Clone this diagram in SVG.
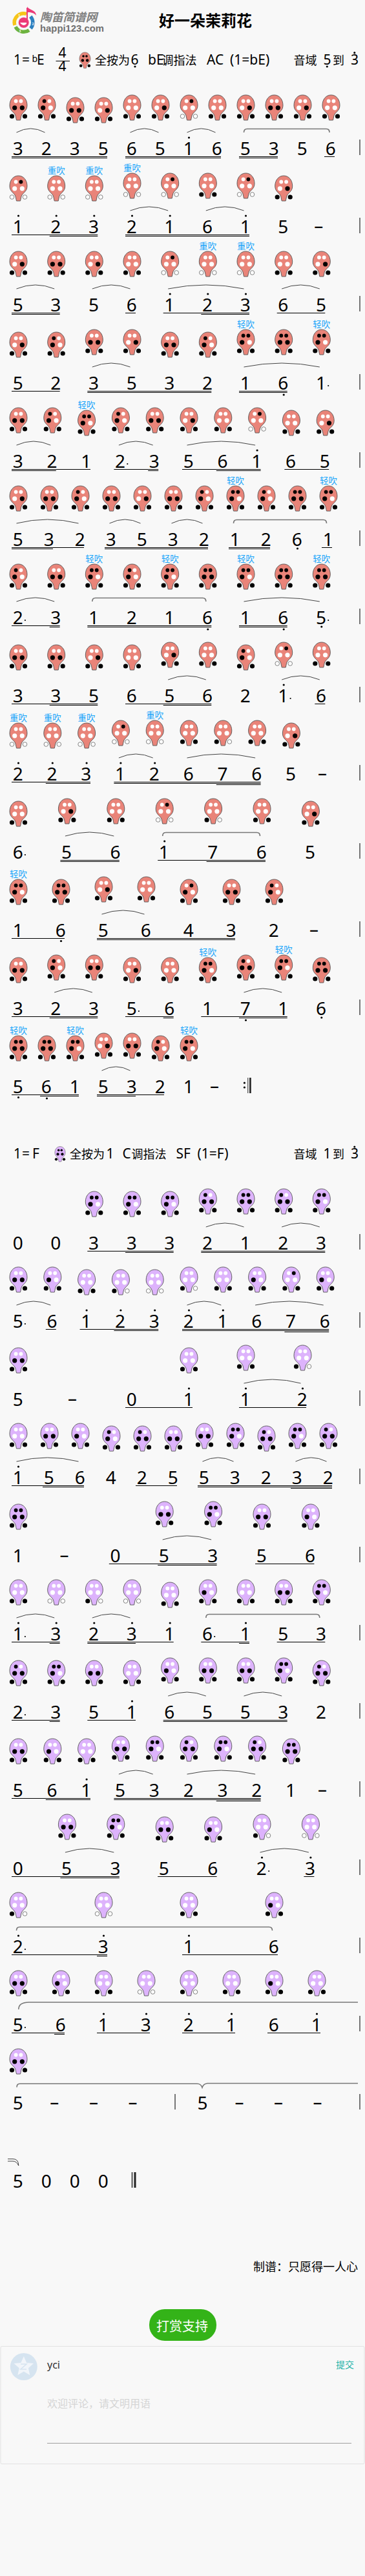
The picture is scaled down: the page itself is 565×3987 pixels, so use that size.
<svg xmlns="http://www.w3.org/2000/svg" width="565" height="3987" viewBox="0 0 565 3987">
<style>
text{font-family:"Noto Sans","Noto Sans CJK SC",sans-serif;fill:#000}
.n text{font-size:28px;text-anchor:middle}
.h{font-size:21px}
.j{font-size:18px}
.c{font-size:13.5px;text-anchor:middle;fill:#1AA5FA}
.w{fill:#fff}.k{fill:#000}.o{fill:#fff;stroke:#666;stroke-width:.8}
.br{fill:#E98479;stroke:#555;stroke-width:.9}.bp{fill:#DDB3FC;stroke:#555;stroke-width:.9}
.a{fill:none;stroke:#444;stroke-width:1}
.f{fill:none;stroke:#777;stroke-width:1.6}
.u{fill:none;stroke:#000;stroke-width:1}
.d{fill:none;stroke:#000;stroke-width:3.2;stroke-linecap:round}
.e{fill:none;stroke:#000;stroke-width:2.2;stroke-linecap:round}
.bar{fill:none;stroke:#777;stroke-width:2}
</style>
<defs>
<path id="R" class="br" d="M0 0C8 0 13.5 7 13.5 16C13.5 25 6.5 26 4.5 32L3 39H-3L-4.5 32C-6.5 26-13.5 25-13.5 16C-13.5 7-8 0 0 0Z"/>
<path id="P" class="bp" d="M0 0C8 0 13.5 7 13.5 16C13.5 25 6.5 26 4.5 32L3 39H-3L-4.5 32C-6.5 26-13.5 25-13.5 16C-13.5 7-8 0 0 0Z"/>
<g id="t0"><circle class="w" cx="-3.9" cy="9.5" r="2.9"/><circle class="w" cx="3.9" cy="9.5" r="2.9"/></g>
<g id="t1"><circle class="k" cx="-3.9" cy="9.5" r="2.9"/><circle class="w" cx="3.9" cy="9.5" r="2.9"/></g>
<g id="t2"><circle class="w" cx="-3.9" cy="9.5" r="2.9"/><circle class="k" cx="3.9" cy="9.5" r="2.9"/></g>
<g id="t3"><circle class="k" cx="-3.9" cy="9.5" r="2.9"/><circle class="k" cx="3.9" cy="9.5" r="2.9"/></g>
<g id="m0"><circle class="w" cx="-5.8" cy="19.8" r="3.6"/><circle class="w" cx="5.8" cy="19.8" r="3.6"/></g>
<g id="m1"><circle class="k" cx="-5.8" cy="19.8" r="3.6"/><circle class="w" cx="5.8" cy="19.8" r="3.6"/></g>
<g id="m2"><circle class="w" cx="-5.8" cy="19.8" r="3.6"/><circle class="k" cx="5.8" cy="19.8" r="3.6"/></g>
<g id="m3"><circle class="k" cx="-5.8" cy="19.8" r="3.6"/><circle class="k" cx="5.8" cy="19.8" r="3.6"/></g>
<g id="b0"><circle class="o" cx="-10" cy="33" r="3.3"/><circle class="o" cx="10" cy="33" r="3.3"/></g>
<g id="b1"><circle class="k" cx="-10" cy="33" r="3.6"/><circle class="o" cx="10" cy="33" r="3.3"/></g>
<g id="b3"><circle class="k" cx="-10" cy="33" r="3.6"/><circle class="k" cx="10" cy="33" r="3.6"/></g>
<g id="A"><use href="#t0"/><use href="#m3"/><use href="#b3"/></g>
<g id="B"><use href="#t1"/><use href="#m3"/><use href="#b3"/></g>
<g id="C"><use href="#t1"/><use href="#m1"/><use href="#b3"/></g>
<g id="D"><use href="#t3"/><use href="#m1"/><use href="#b3"/></g>
<g id="E"><use href="#t3"/><use href="#m3"/><use href="#b3"/></g>
<g id="F"><use href="#t0"/><use href="#m2"/><use href="#b3"/></g>
<g id="G"><use href="#t0"/><use href="#m0"/><use href="#b3"/></g>
<g id="H"><use href="#t2"/><use href="#m0"/><use href="#b3"/></g>
<g id="I"><use href="#t2"/><use href="#m0"/><use href="#b0"/></g>
<g id="J"><use href="#t0"/><use href="#m0"/><use href="#b0"/></g>
<g id="K"><use href="#t0"/><use href="#m0"/><use href="#b1"/></g>
<g id="L"><use href="#t0"/><use href="#m1"/><use href="#b3"/></g>
<g id="N"><use href="#t2"/><use href="#m1"/><use href="#b3"/></g>
<g id="rA"><use href="#R"/><use href="#A"/></g><g id="rB"><use href="#R"/><use href="#B"/></g><g id="rC"><use href="#R"/><use href="#C"/></g><g id="rD"><use href="#R"/><use href="#D"/></g><g id="rE"><use href="#R"/><use href="#E"/></g><g id="rF"><use href="#R"/><use href="#F"/></g><g id="rG"><use href="#R"/><use href="#G"/></g><g id="rI"><use href="#R"/><use href="#I"/></g><g id="rJ"><use href="#R"/><use href="#J"/></g><g id="rK"><use href="#R"/><use href="#K"/></g><g id="rN"><use href="#R"/><use href="#N"/></g>
<g id="pA"><use href="#P"/><use href="#A"/></g><g id="pB"><use href="#P"/><use href="#B"/></g><g id="pC"><use href="#P"/><use href="#C"/></g><g id="pD"><use href="#P"/><use href="#D"/></g><g id="pE"><use href="#P"/><use href="#E"/></g><g id="pG"><use href="#P"/><use href="#G"/></g><g id="pH"><use href="#P"/><use href="#H"/></g><g id="pJ"><use href="#P"/><use href="#J"/></g><g id="pK"><use href="#P"/><use href="#K"/></g><g id="pL"><use href="#P"/><use href="#L"/></g>
<path id="bl" class="bar" d="M557-24V0"/>
</defs>
<rect width="565" height="3987" fill="#F8F8F8"/>

<g id="logo">
<path d="M22.8 39A14.3 14.3 0 0 1 41 21.5" fill="none" stroke="#F6C51A" stroke-width="5.5"/>
<path d="M24 41.5A14.3 14.3 0 0 0 45 46.7" fill="none" stroke="#6DB33F" stroke-width="5.5"/>
<path d="M47.5 44A14.3 14.3 0 0 0 47.3 25.5" fill="none" stroke="#2C7FBF" stroke-width="5.5"/>
<circle cx="36.7" cy="35" r="8" fill="#EC3A77"/>
<path d="M31 35Q36.7 43 42.5 35Z" fill="#fff"/>
<path d="M42 37V12" stroke="#EC3A77" stroke-width="2" fill="none"/>
<path d="M42 10C45 16 56 15 56 24C52 19 46 19 43 19Z" fill="#EC3A77"/>
<text x="28.3" y="26" font-size="5" font-weight="bold" style="fill:#fff">1</text>
<text x="49.5" y="38.5" font-size="5" font-weight="bold" style="fill:#fff">2</text>
<text x="29.5" y="49.5" font-size="5" font-weight="bold" style="fill:#fff">3</text>
<text x="62" y="33" font-size="17.7" font-weight="bold" font-style="italic" style="fill:#808080">陶笛简谱网</text>
<text x="62" y="49" font-size="15" font-weight="bold" textLength="99" lengthAdjust="spacingAndGlyphs" style="fill:#707070;font-family:'Liberation Sans',sans-serif">happi123.com</text>
</g>
<text id="title" x="318" y="41" font-size="24" font-weight="bold" text-anchor="middle">好一朵茉莉花</text>

<g id="header1">
<text class="h" x="21" y="100">1</text><text class="h" x="34" y="100">=</text><text x="49.5" y="96" font-size="14">b</text><text class="h" x="57" y="100">E</text>
<text class="h" x="96.6" y="89" text-anchor="middle">4</text><path class="u" d="M86.5 94.5H108"/><text class="h" x="96.6" y="110" text-anchor="middle">4</text>
<use href="#rE" transform="translate(131.5 81) scale(.63)"/>
<text class="j" x="147" y="100">全按为</text><text class="h" x="202.5" y="100">6</text>
<text class="h" x="229" y="100">bE</text><text class="j" x="250.5" y="100">调指法</text>
<text class="h" x="320" y="100">AC</text><text class="h" x="356" y="100">(1=bE)</text>
<text class="j" x="454.5" y="100">音域</text><text class="h" x="500.5" y="100">5</text><text class="j" x="515" y="100">到</text><text class="h" x="543" y="100">3</text>
<path class="d" d="M209 103h0M506.3 103h0M548.8 81.7h0"/>
</g>

<g id="row1" transform="translate(0,240)">
<use href="#rA" x="28.5" y="-93"/><use href="#rC" x="72.5" y="-93"/><use href="#rA" x="116.5" y="-89"/><use href="#rF" x="160.5" y="-89"/><use href="#rG" x="204.5" y="-93"/><use href="#rF" x="248.5" y="-93"/><use href="#rI" x="292.5" y="-93"/><use href="#rG" x="336.5" y="-93"/><use href="#rF" x="380.5" y="-93"/><use href="#rA" x="424.5" y="-93"/><use href="#rF" x="468.5" y="-93"/><use href="#rG" x="512.5" y="-93"/>
<path class="a" d="M25.5-35q22-12 44 0M201.5-35q22-12 44 0M289.5-35q22-12 44 0"/>
<path class="f" d="M377.5-35q0-5.5 5-5.5H505q5 0 5 5.5"/>
<path class="u" d="M18 2.5H166M194 2.5H342M370 2.5H430M502 2.5H518M18 4.5H166M194 4.5H342M370 4.5H430"/>
<g class="n" transform="translate(-.8,0)"><text x="28.5">3</text><text x="72.5">2</text><text x="116.5">3</text><text x="160.5">5</text><text x="204.5">6</text><text x="248.5">5</text><text x="292.5">1</text><text x="336.5">6</text><text x="380.5">5</text><text x="424.5">3</text><text x="468.5">5</text><text x="512.5">6</text></g>
<path class="d" d="M292.5-27h0"/><use href="#bl"/>
</g>

<g id="row2" transform="translate(0,361)">
<use href="#rI" x="28.5" y="-89"/><use href="#rJ" x="87.2" y="-89"/><use href="#rJ" x="145.8" y="-89"/><use href="#rJ" x="204.5" y="-93"/><use href="#rI" x="263.2" y="-93"/><use href="#rG" x="321.8" y="-93"/><use href="#rI" x="380.5" y="-93"/><use href="#rF" x="439.2" y="-89"/>
<text class="c" x="87.2" y="-92">重吹</text><text class="c" x="145.8" y="-92">重吹</text><text class="c" x="204.5" y="-96">重吹</text>
<path class="a" d="M201.5-35q29.3-12 58.7 0M318.8-35q29.3-12 58.7 0"/>
<path class="u" d="M18 2.5H151.3M194 2.5H386M76.7 4.5H151.3M194 4.5H386"/>
<g class="n" transform="translate(-.8,0)"><text x="28.5">1</text><text x="87.2">2</text><text x="145.8">3</text><text x="204.5">2</text><text x="263.2">1</text><text x="321.8">6</text><text x="380.5">1</text><text x="439.2">5</text><text x="494" y="-2">–</text></g>
<path class="d" d="M28.5-27h0M87.2-27h0M145.8-27h0M204.5-27h0M263.2-27h0M380.5-27h0"/><use href="#bl"/>
</g>

<g id="row3" transform="translate(0,482)">
<use href="#rF" x="28.5" y="-93"/><use href="#rA" x="87.2" y="-93"/><use href="#rF" x="145.8" y="-93"/><use href="#rG" x="204.5" y="-93"/><use href="#rI" x="263.2" y="-93"/><use href="#rJ" x="321.8" y="-93"/><use href="#rJ" x="380.5" y="-93"/><use href="#rG" x="439.2" y="-93"/><use href="#rF" x="497.8" y="-93"/>
<text class="c" x="321.8" y="-96">重吹</text><text class="c" x="380.5" y="-96">重吹</text>
<path class="a" d="M25.5-35q29.3-12 58.7 0M142.8-35q29.3-12 58.7 0M260.2-35q58.7-12 117.3 0M436.2-35q29.3-12 58.6 0"/>
<path class="u" d="M18 2.5H92.7M194 2.5H210M252.7 2.5H386M428.7 2.5H503.3M18 4.5H92.7M311.3 4.5H386"/>
<g class="n" transform="translate(-.8,0)"><text x="28.5">5</text><text x="87.2">3</text><text x="145.8">5</text><text x="204.5">6</text><text x="263.2">1</text><text x="321.8">2</text><text x="380.5">3</text><text x="439.2">6</text><text x="497.8">5</text></g>
<path class="d" d="M263.2-27h0M321.8-27h0M380.5-27h0"/><use href="#bl"/>
</g>

<g id="row4" transform="translate(0,603)">
<use href="#rF" x="28.5" y="-89"/><use href="#rC" x="87.2" y="-89"/><use href="#rA" x="145.8" y="-93"/><use href="#rF" x="204.5" y="-93"/><use href="#rA" x="263.2" y="-89"/><use href="#rC" x="321.8" y="-89"/><use href="#rD" x="380.5" y="-93"/><use href="#rE" x="439.2" y="-93"/><use href="#rD" x="497.8" y="-93"/>
<text class="c" x="380.5" y="-96">轻吹</text><text class="c" x="497.8" y="-96">轻吹</text>
<path class="a" d="M142.8-35q29.3-12 58.7 0M377.5-35q58.7-12 117.3 0"/>
<path class="u" d="M18 2.5H92.7M135.3 2.5H327.3M370 2.5H444.7M135.3 4.5H327.3M370 4.5H444.7"/>
<g class="n" transform="translate(-.8,0)"><text x="28.5">5</text><text x="87.2">2</text><text x="145.8">3</text><text x="204.5">5</text><text x="263.2">3</text><text x="321.8">2</text><text x="380.5">1</text><text x="439.2">6</text><text x="497.8">1</text></g>
<path class="d" d="M439.2 8h0"/><path class="e" d="M508.2-6h0"/><use href="#bl"/>
</g>

<g id="row5" transform="translate(0,724)">
<use href="#rA" x="28.5" y="-93"/><use href="#rC" x="81.3" y="-93"/><use href="#rD" x="134.1" y="-89"/><use href="#rC" x="186.9" y="-93"/><use href="#rA" x="239.7" y="-93"/><use href="#rF" x="292.5" y="-93"/><use href="#rG" x="345.3" y="-93"/><use href="#rI" x="398.1" y="-93"/><use href="#rG" x="450.9" y="-89"/><use href="#rF" x="503.7" y="-89"/>
<text class="c" x="134.1" y="-92">轻吹</text>
<path class="a" d="M25.5-35q26.4-12 52.8 0M183.9-35q26.4-12 52.8 0M289.5-35q52.8-12 105.6 0"/>
<path class="u" d="M18 2.5H140M176.4 2.5H245.2M282 2.5H403.6M440.4 2.5H509.2M18 4.5H86.8M229.2 4.5H245.2M334.8 4.5H403.6"/>
<g class="n" transform="translate(-.8,0)"><text x="28.5">3</text><text x="81.3">2</text><text x="134.1">1</text><text x="186.9">2</text><text x="239.7">3</text><text x="292.5">5</text><text x="345.3">6</text><text x="398.1">1</text><text x="450.9">6</text><text x="503.7">5</text></g>
<path class="d" d="M398.1-27h0"/><path class="e" d="M197.3-6h0"/><use href="#bl"/>
</g>

<g id="row6" transform="translate(0,845)">
<use href="#rF" x="28.5" y="-93"/><use href="#rA" x="76.5" y="-93"/><use href="#rC" x="124.5" y="-93"/><use href="#rA" x="172.5" y="-93"/><use href="#rF" x="220.5" y="-93"/><use href="#rA" x="268.5" y="-93"/><use href="#rC" x="316.5" y="-93"/><use href="#rD" x="364.5" y="-93"/><use href="#rC" x="412.5" y="-93"/><use href="#rE" x="460.5" y="-93"/><use href="#rD" x="508.5" y="-93"/>
<text class="c" x="364.5" y="-96">轻吹</text><text class="c" x="508.5" y="-96">轻吹</text>
<path class="a" d="M25.5-35q48-12 96 0M169.5-35q24-12 48 0M265.5-35q24-12 48 0"/>
<path class="f" d="M361.5-35q0-5.5 5-5.5H500.5q5 0 5 5.5"/>
<path class="u" d="M18 2.5H130M162 2.5H322M354 2.5H418M498 2.5H514M18 4.5H82M162 4.5H322M354 4.5H418"/>
<g class="n" transform="translate(-.8,0)"><text x="28.5">5</text><text x="76.5">3</text><text x="124.5">2</text><text x="172.5">3</text><text x="220.5">5</text><text x="268.5">3</text><text x="316.5">2</text><text x="364.5">1</text><text x="412.5">2</text><text x="460.5">6</text><text x="508.5">1</text></g>
<path class="d" d="M460.5 4h0"/><use href="#bl"/>
</g>

<g id="row7" transform="translate(0,966)">
<use href="#rC" x="28.5" y="-93"/><use href="#rA" x="87.2" y="-93"/><use href="#rD" x="145.8" y="-93"/><use href="#rC" x="204.5" y="-93"/><use href="#rD" x="263.2" y="-93"/><use href="#rE" x="321.8" y="-93"/><use href="#rD" x="380.5" y="-93"/><use href="#rE" x="439.2" y="-93"/><use href="#rE" x="497.8" y="-93"/>
<text class="c" x="145.8" y="-96">轻吹</text><text class="c" x="263.2" y="-96">轻吹</text><text class="c" x="380.5" y="-96">轻吹</text><text class="c" x="497.8" y="-96">轻吹</text>
<path class="a" d="M25.5-35q29.3-12 58.7 0M377.5-35q58.7-12 117.3 0"/>
<path class="f" d="M142.8-35q0-5.5 5-5.5H313.8q5 0 5 5.5"/>
<path class="u" d="M18 2.5H92.7M135.3 2.5H327.3M370 2.5H444.7M76.7 4.5H92.7M135.3 4.5H327.3M370 4.5H444.7"/>
<g class="n" transform="translate(-.8,0)"><text x="28.5">2</text><text x="87.2">3</text><text x="145.8">1</text><text x="204.5">2</text><text x="263.2">1</text><text x="321.8">6</text><text x="380.5">1</text><text x="439.2">6</text><text x="497.8">5</text></g>
<path class="d" d="M321.8 8h0M439.2 8h0M497.8 4h0"/><path class="e" d="M38.9-6h0M508.2-6h0"/><use href="#bl"/>
</g>

<g id="row8" transform="translate(0,1087)">
<use href="#rA" x="28.5" y="-89"/><use href="#rA" x="87.2" y="-89"/><use href="#rF" x="145.8" y="-89"/><use href="#rG" x="204.5" y="-89"/><use href="#rF" x="263.2" y="-93"/><use href="#rG" x="321.8" y="-93"/><use href="#rC" x="380.5" y="-89"/><use href="#rI" x="439.2" y="-93"/><use href="#rG" x="497.8" y="-93"/>
<path class="a" d="M260.2-35q29.3-12 58.6 0M436.2-35q29.3-12 58.6 0"/>
<path class="u" d="M18 2.5H151.3M194 2.5H327.3M487.3 2.5H503.3M76.7 4.5H151.3M252.7 4.5H327.3"/>
<g class="n" transform="translate(-.8,0)"><text x="28.5">3</text><text x="87.2">3</text><text x="145.8">5</text><text x="204.5">6</text><text x="263.2">5</text><text x="321.8">6</text><text x="380.5">2</text><text x="439.2">1</text><text x="497.8">6</text></g>
<path class="d" d="M439.2-27h0"/><path class="e" d="M449.6-6h0"/><use href="#bl"/>
</g>

<g id="row9" transform="translate(0,1208)">
<use href="#rJ" x="28.5" y="-89"/><use href="#rJ" x="81.3" y="-89"/><use href="#rJ" x="134.1" y="-89"/><use href="#rI" x="186.9" y="-93"/><use href="#rJ" x="239.7" y="-93"/><use href="#rG" x="292.5" y="-93"/><use href="#rK" x="345.3" y="-93"/><use href="#rG" x="398.1" y="-93"/><use href="#rF" x="450.9" y="-89"/>
<text class="c" x="28.5" y="-92">重吹</text><text class="c" x="81.3" y="-92">重吹</text><text class="c" x="134.1" y="-92">重吹</text><text class="c" x="239.7" y="-96">重吹</text>
<path class="a" d="M183.9-35q26.4-12 52.8 0M289.5-35q52.8-12 105.6 0"/>
<path class="u" d="M18 2.5H140M176.4 2.5H403.6M70.8 4.5H140M176.4 4.5H403.6M334.8 6.5H403.6"/>
<g class="n" transform="translate(-.8,0)"><text x="28.5">2</text><text x="81.3">2</text><text x="134.1">3</text><text x="186.9">1</text><text x="239.7">2</text><text x="292.5">6</text><text x="345.3">7</text><text x="398.1">6</text><text x="450.9">5</text><text x="499.8" y="-2">–</text></g>
<path class="d" d="M28.5-27h0M81.3-27h0M134.1-27h0M186.9-27h0M239.7-27h0"/><use href="#bl"/>
</g>

<g id="row10" transform="translate(0,1329)">
<use href="#rG" x="28.5" y="-89"/><use href="#rF" x="103.9" y="-93"/><use href="#rG" x="179.3" y="-93"/><use href="#rI" x="254.7" y="-93"/><use href="#rK" x="330.1" y="-93"/><use href="#rG" x="405.5" y="-93"/><use href="#rF" x="480.9" y="-89"/>
<path class="a" d="M100.9-35q37.7-12 75.4 0"/>
<path class="f" d="M251.7-35q0-5.5 5-5.5H397.5q5 0 5 5.5"/>
<path class="u" d="M93.4 2.5H184.8M244.2 2.5H411M93.4 4.5H184.8M319.6 4.5H411"/>
<g class="n" transform="translate(-.8,0)"><text x="28.5">6</text><text x="103.9">5</text><text x="179.3">6</text><text x="254.7">1</text><text x="330.1">7</text><text x="405.5">6</text><text x="480.9">5</text></g>
<path class="d" d="M254.7-27h0"/><path class="e" d="M38.9-6h0"/><use href="#bl"/>
</g>

<g id="row11" transform="translate(0,1450)">
<use href="#rD" x="28.5" y="-89"/><use href="#rE" x="94.5" y="-89"/><use href="#rF" x="160.5" y="-93"/><use href="#rG" x="226.5" y="-93"/><use href="#rN" x="292.5" y="-89"/><use href="#rA" x="358.5" y="-89"/><use href="#rC" x="424.5" y="-89"/>
<text class="c" x="28.5" y="-92">轻吹</text>
<path class="a" d="M157.5-35q33-12 66 0"/>
<path class="u" d="M18 2.5H100M150 2.5H364M150 4.5H364"/>
<g class="n" transform="translate(-.8,0)"><text x="28.5">1</text><text x="94.5">6</text><text x="160.5">5</text><text x="226.5">6</text><text x="292.5">4</text><text x="358.5">3</text><text x="424.5">2</text><text x="486.8" y="-2">–</text></g>
<path class="d" d="M94.5 6.5h0"/><use href="#bl"/>
</g>

<g id="row12" transform="translate(0,1571)">
<use href="#rA" x="28.5" y="-89"/><use href="#rC" x="87.2" y="-93"/><use href="#rA" x="145.8" y="-93"/><use href="#rF" x="204.5" y="-89"/><use href="#rG" x="263.2" y="-89"/><use href="#rD" x="321.8" y="-89"/><use href="#rB" x="380.5" y="-93"/><use href="#rD" x="439.2" y="-93"/><use href="#rE" x="497.8" y="-89"/>
<text class="c" x="321.8" y="-92">轻吹</text><text class="c" x="439.2" y="-96">轻吹</text>
<path class="a" d="M84.2-35q29.3-12 58.6 0M377.5-35q29.3-12 58.7 0"/>
<path class="u" d="M18 2.5H151.3M194 2.5H268.7M311.3 2.5H444.7M76.7 4.5H151.3M252.7 4.5H268.7M370 4.5H444.7"/>
<g class="n" transform="translate(-.8,0)"><text x="28.5">3</text><text x="87.2">2</text><text x="145.8">3</text><text x="204.5">5</text><text x="263.2">6</text><text x="321.8">1</text><text x="380.5">7</text><text x="439.2">1</text><text x="497.8">6</text></g>
<path class="d" d="M380.5 8h0M497.8 4h0"/><path class="e" d="M214.9-6h0"/><use href="#bl"/>
</g>

<g id="row13" transform="translate(0,1692)">
<use href="#rE" x="28.5" y="-89"/><use href="#rE" x="72.5" y="-89"/><use href="#rD" x="116.5" y="-89"/><use href="#rF" x="160.5" y="-93"/><use href="#rA" x="204.5" y="-93"/><use href="#rC" x="248.5" y="-89"/><use href="#rD" x="292.5" y="-89"/>
<text class="c" x="28.5" y="-92">轻吹</text><text class="c" x="116.5" y="-92">轻吹</text><text class="c" x="292.5" y="-92">轻吹</text>
<path class="a" d="M157.5-35q22-12 44 0"/>
<path class="u" d="M18 2.5H122M150 2.5H254M62 4.5H122M150 4.5H210"/>
<g class="n" transform="translate(-.8,0)"><text x="28.5">5</text><text x="72.5">6</text><text x="116.5">1</text><text x="160.5">5</text><text x="204.5">3</text><text x="248.5">2</text><text x="292.5">1</text><text x="332.8" y="-2">–</text></g>
<path class="d" d="M28.5 6.5h0M72.5 8h0M378.4-16h0M378.4-9h0"/>
<path d="M383.8-24V0" stroke="#222" stroke-width="1" fill="none"/><path d="M387.4-24V0" stroke="#222" stroke-width="2.6" fill="none"/>
</g>

<g id="header2">
<text class="h" x="21" y="1793">1</text><text class="h" x="34" y="1793">=</text><text class="h" x="50" y="1793">F</text>
<use href="#pE" transform="translate(93 1774.5) scale(.6)"/>
<text class="j" x="108" y="1793">全按为</text><text class="h" x="164.5" y="1793">1</text>
<text class="h" x="189.5" y="1793">C</text><text class="j" x="203.5" y="1793">调指法</text>
<text class="h" x="272.5" y="1793">SF</text><text class="h" x="305.5" y="1793">(1=F)</text>
<text class="j" x="454.5" y="1793">音域</text><text class="h" x="500.5" y="1793">1</text><text class="j" x="515" y="1793">到</text><text class="h" x="543" y="1793">3</text>
<path class="d" d="M548.8 1775h0"/>
</g>

<g id="row14" transform="translate(0,1934)">
<use href="#pD" x="145.8" y="-90"/><use href="#pD" x="204.5" y="-90"/><use href="#pD" x="263.2" y="-90"/><use href="#pB" x="321.8" y="-94"/><use href="#pE" x="380.5" y="-94"/><use href="#pB" x="439.2" y="-94"/><use href="#pD" x="497.8" y="-94"/>
<path class="a" d="M318.8-35q29.3-12 58.7 0M436.2-35q29.3-12 58.6 0"/>
<path class="u" d="M135.3 2.5H268.7M311.3 2.5H503.3M194 4.5H268.7M311.3 4.5H503.3"/>
<g class="n" transform="translate(-.8,0)"><text x="28.5">0</text><text x="87.2">0</text><text x="145.8">3</text><text x="204.5">3</text><text x="263.2">3</text><text x="321.8">2</text><text x="380.5">1</text><text x="439.2">2</text><text x="497.8">3</text></g>
<use href="#bl"/>
</g>

<g id="row15" transform="translate(0,2055)">
<use href="#pA" x="28.5" y="-94"/><use href="#pL" x="81.3" y="-94"/><use href="#pG" x="134.1" y="-90"/><use href="#pK" x="186.9" y="-90"/><use href="#pJ" x="239.7" y="-90"/><use href="#pK" x="292.5" y="-94"/><use href="#pG" x="345.3" y="-94"/><use href="#pL" x="398.1" y="-94"/><use href="#pH" x="450.9" y="-94"/><use href="#pL" x="503.7" y="-94"/>
<path class="a" d="M25.5-35q26.4-12 52.8 0M289.5-35q26.4-12 52.8 0M395.1-35q52.8-12 105.6 0"/>
<path class="u" d="M70.8 2.5H86.8M123.6 2.5H245.2M282 2.5H509.2M176.4 4.5H245.2M282 4.5H509.2M440.4 6.5H509.2"/>
<g class="n" transform="translate(-.8,0)"><text x="28.5">5</text><text x="81.3">6</text><text x="134.1">1</text><text x="186.9">2</text><text x="239.7">3</text><text x="292.5">2</text><text x="345.3">1</text><text x="398.1">6</text><text x="450.9">7</text><text x="503.7">6</text></g>
<path class="d" d="M134.1-27h0M186.9-27h0M239.7-27h0M292.5-27h0M345.3-27h0"/><path class="e" d="M38.9-6h0"/><use href="#bl"/>
</g>

<g id="row16" transform="translate(0,2176)">
<use href="#pA" x="28.5" y="-90"/><use href="#pG" x="292.5" y="-90"/><use href="#pG" x="380.5" y="-94"/><use href="#pK" x="468.5" y="-94"/>
<path class="a" d="M377.5-35q44-12 88 0"/>
<path class="u" d="M194 2.5H298M370 2.5H474"/>
<g class="n" transform="translate(-.8,0)"><text x="28.5">5</text><text x="112.8" y="-2">–</text><text x="204.5">0</text><text x="292.5">1</text><text x="380.5">1</text><text x="468.5">2</text></g>
<path class="d" d="M292.5-27h0M380.5-27h0M468.5-27h0"/><use href="#bl"/>
</g>

<g id="row17" transform="translate(0,2297)">
<use href="#pG" x="28.5" y="-94"/><use href="#pA" x="76.5" y="-94"/><use href="#pL" x="124.5" y="-94"/><use href="#pC" x="172.5" y="-90"/><use href="#pB" x="220.5" y="-90"/><use href="#pA" x="268.5" y="-90"/><use href="#pA" x="316.5" y="-94"/><use href="#pD" x="364.5" y="-94"/><use href="#pB" x="412.5" y="-90"/><use href="#pD" x="460.5" y="-94"/><use href="#pB" x="508.5" y="-94"/>
<path class="a" d="M25.5-35q48-12 96 0M313.5-35q24-12 48 0M457.5-35q24-12 48 0"/>
<path class="u" d="M18 2.5H130M210 2.5H274M306 2.5H514M66 4.5H130M306 4.5H514M450 6.5H514"/>
<g class="n" transform="translate(-.8,0)"><text x="28.5">1</text><text x="76.5">5</text><text x="124.5">6</text><text x="172.5">4</text><text x="220.5">2</text><text x="268.5">5</text><text x="316.5">5</text><text x="364.5">3</text><text x="412.5">2</text><text x="460.5">3</text><text x="508.5">2</text></g>
<path class="d" d="M28.5-27h0"/><use href="#bl"/>
</g>

<g id="row18" transform="translate(0,2418)">
<use href="#pE" x="28.5" y="-90"/><use href="#pA" x="254.7" y="-94"/><use href="#pD" x="330.1" y="-94"/><use href="#pA" x="405.5" y="-90"/><use href="#pL" x="480.9" y="-90"/>
<path class="a" d="M251.7-35q37.7-12 75.4 0"/>
<path class="u" d="M168.8 2.5H335.6M395 2.5H486.4M244.2 4.5H335.6"/>
<g class="n" transform="translate(-.8,0)"><text x="28.5">1</text><text x="100.2" y="-2">–</text><text x="179.3">0</text><text x="254.7">5</text><text x="330.1">3</text><text x="405.5">5</text><text x="480.9">6</text></g>
<use href="#bl"/>
</g>

<g id="row19" transform="translate(0,2539)">
<use href="#pG" x="28.5" y="-94"/><use href="#pJ" x="87.2" y="-94"/><use href="#pK" x="145.8" y="-94"/><use href="#pJ" x="204.5" y="-94"/><use href="#pG" x="263.2" y="-90"/><use href="#pL" x="321.8" y="-94"/><use href="#pG" x="380.5" y="-94"/><use href="#pA" x="439.2" y="-94"/><use href="#pD" x="497.8" y="-94"/>
<path class="a" d="M25.5-35q29.3-12 58.7 0M142.8-35q29.3-12 58.7 0"/>
<path class="f" d="M318.8-35q0-5.5 5-5.5H489.8q5 0 5 5.5"/>
<path class="u" d="M18 2.5H92.7M135.3 2.5H268.7M311.3 2.5H386M428.7 2.5H503.3M76.7 4.5H92.7M135.3 4.5H210M370 4.5H386"/>
<g class="n" transform="translate(-.8,0)"><text x="28.5">1</text><text x="87.2">3</text><text x="145.8">2</text><text x="204.5">3</text><text x="263.2">1</text><text x="321.8">6</text><text x="380.5">1</text><text x="439.2">5</text><text x="497.8">3</text></g>
<path class="d" d="M28.5-27h0M87.2-27h0M145.8-27h0M204.5-27h0M263.2-27h0M380.5-27h0"/><path class="e" d="M38.9-6h0M332.2-6h0"/><use href="#bl"/>
</g>

<g id="row20" transform="translate(0,2660)">
<use href="#pB" x="28.5" y="-90"/><use href="#pD" x="87.2" y="-90"/><use href="#pA" x="145.8" y="-90"/><use href="#pG" x="204.5" y="-90"/><use href="#pL" x="263.2" y="-94"/><use href="#pA" x="321.8" y="-94"/><use href="#pA" x="380.5" y="-94"/><use href="#pD" x="439.2" y="-94"/><use href="#pB" x="497.8" y="-90"/>
<path class="a" d="M260.2-35q29.3-12 58.6 0M377.5-35q29.3-12 58.7 0"/>
<path class="u" d="M18 2.5H92.7M135.3 2.5H210M252.7 2.5H444.7M76.7 4.5H92.7M252.7 4.5H444.7"/>
<g class="n" transform="translate(-.8,0)"><text x="28.5">2</text><text x="87.2">3</text><text x="145.8">5</text><text x="204.5">1</text><text x="263.2">6</text><text x="321.8">5</text><text x="380.5">5</text><text x="439.2">3</text><text x="497.8">2</text></g>
<path class="d" d="M204.5-27h0"/><path class="e" d="M38.9-6h0"/><use href="#bl"/>
</g>

<g id="row21" transform="translate(0,2781)">
<use href="#pA" x="28.5" y="-90"/><use href="#pL" x="81.3" y="-90"/><use href="#pG" x="134.1" y="-90"/><use href="#pA" x="186.9" y="-94"/><use href="#pD" x="239.7" y="-94"/><use href="#pB" x="292.5" y="-94"/><use href="#pD" x="345.3" y="-94"/><use href="#pB" x="398.1" y="-94"/><use href="#pE" x="450.9" y="-90"/>
<path class="a" d="M183.9-35q26.4-12 52.8 0M289.5-35q52.8-12 105.6 0"/>
<path class="u" d="M18 2.5H140M176.4 2.5H403.6M70.8 4.5H140M176.4 4.5H403.6M334.8 6.5H403.6"/>
<g class="n" transform="translate(-.8,0)"><text x="28.5">5</text><text x="81.3">6</text><text x="134.1">1</text><text x="186.9">5</text><text x="239.7">3</text><text x="292.5">2</text><text x="345.3">3</text><text x="398.1">2</text><text x="450.9">1</text><text x="499.8" y="-2">–</text></g>
<path class="d" d="M134.1-27h0"/><use href="#bl"/>
</g>

<g id="row22" transform="translate(0,2902)">
<use href="#pA" x="103.9" y="-94"/><use href="#pD" x="179.3" y="-94"/><use href="#pA" x="254.7" y="-90"/><use href="#pL" x="330.1" y="-90"/><use href="#pK" x="405.5" y="-94"/><use href="#pJ" x="480.9" y="-94"/>
<path class="a" d="M100.9-35q37.7-12 75.4 0M402.5-35q37.7-12 75.4 0"/>
<path class="u" d="M18 2.5H184.8M244.2 2.5H335.6M470.4 2.5H486.4M93.4 4.5H184.8"/>
<g class="n" transform="translate(-.8,0)"><text x="28.5">0</text><text x="103.9">5</text><text x="179.3">3</text><text x="254.7">5</text><text x="330.1">6</text><text x="405.5">2</text><text x="480.9">3</text></g>
<path class="d" d="M405.5-27h0M480.9-27h0"/><path class="e" d="M416.2-6h0"/><use href="#bl"/>
</g>

<g id="row23" transform="translate(0,3023)">
<use href="#pK" x="28.5" y="-94"/><use href="#pJ" x="160.5" y="-94"/><use href="#pG" x="292.5" y="-94"/><use href="#pL" x="424.5" y="-94"/>
<path class="f" d="M25.5-35q0-5.5 5-5.5H416.5q5 0 5 5.5"/>
<path class="u" d="M18 2.5H166M282 2.5H430M150 4.5H166"/>
<g class="n" transform="translate(-.8,0)"><text x="28.5">2</text><text x="160.5">3</text><text x="292.5">1</text><text x="424.5">6</text></g>
<path class="d" d="M28.5-27h0M160.5-27h0M292.5-27h0"/><path class="e" d="M38.9-6h0"/><use href="#bl"/>
</g>

<g id="row24" transform="translate(0,3144)">
<use href="#pA" x="28.5" y="-94"/><use href="#pL" x="94.5" y="-94"/><use href="#pG" x="160.5" y="-94"/><use href="#pJ" x="226.5" y="-94"/><use href="#pK" x="292.5" y="-94"/><use href="#pG" x="358.5" y="-94"/><use href="#pL" x="424.5" y="-94"/><use href="#pG" x="490.5" y="-94"/>
<path class="f" d="M28.8-34Q28.8-45 45-45H554"/>
<path class="u" d="M18 2.5H100M150 2.5H232M282 2.5H364M414 2.5H496M84 4.5H100"/>
<g class="n" transform="translate(-.8,0)"><text x="28.5">5</text><text x="94.5">6</text><text x="160.5">1</text><text x="226.5">3</text><text x="292.5">2</text><text x="358.5">1</text><text x="424.5">6</text><text x="490.5">1</text></g>
<path class="d" d="M160.5-27h0M226.5-27h0M292.5-27h0M358.5-27h0M490.5-27h0"/><path class="e" d="M38.9-6h0"/><use href="#bl"/>
</g>

<g id="row25" transform="translate(0,3265)">
<use href="#pA" x="28.5" y="-94"/>
<path class="f" d="M26-34.5q0-5.5 5-5.5H305q6 0 8 6q2-6 8-6.5H554"/>
<g class="n" transform="translate(-.8,0)"><text x="28.5">5</text><text x="85.1" y="-2">–</text><text x="145.7" y="-2">–</text><text x="206.2" y="-2">–</text><text x="314.3">5</text><text x="371.3" y="-2">–</text><text x="431.8" y="-2">–</text><text x="492.3" y="-2">–</text></g>
<path class="bar" d="M271-24V0"/><use href="#bl"/>
</g>

<g id="row26" transform="translate(0,3386)">
<path class="a" d="M12-44.5H20Q28.8-44.5 28.8-34M12-41H20Q26-41 28.8-34"/>
<g class="n" transform="translate(-.8,0)"><text x="28.5">5</text><text x="72.5">0</text><text x="116.5">0</text><text x="160.5">0</text></g>
<path d="M204.5-24V0" stroke="#333" stroke-width="1.6" fill="none"/><path d="M209-24V0" stroke="#222" stroke-width="3" fill="none"/>
</g>

<text id="credit" x="392" y="3515" font-size="18">制谱：只愿得一人心</text>

<g id="button">
<rect x="231" y="3574" width="104" height="49" rx="24" fill="#34B318"/>
<text x="282" y="3608" font-size="20" text-anchor="middle" style="fill:#fff">打赏支持</text>
</g>

<g id="comment">
<rect x="1" y="3631.5" width="563" height="182" rx="2" fill="none" stroke="#E2E2E2" stroke-width="1"/>
<circle cx="36.8" cy="3663" r="21" fill="#D6E4F0"/>
<polygon points="36.8,3647 41.2,3657 52,3658 43.9,3665.3 46.2,3676 36.8,3670.5 27.4,3676 29.7,3665.3 21.6,3658 32.4,3657" fill="#F1F5FA"/>
<polyline points="32,3659 41,3659 32,3667 41,3667" fill="none" stroke="#D6E4F0" stroke-width="1.6"/>
<text x="73" y="3666" font-size="16" style="fill:#333">yci</text>
<text x="520" y="3665" font-size="14" style="fill:#26B3A8">提交</text>
<text x="73" y="3726" font-size="16" style="fill:#D5D5D5">欢迎评论，请文明用语</text>
<path d="M73 3781.5H544" stroke="#A0A0A0" stroke-width="1" fill="none"/>
</g>
</svg>
